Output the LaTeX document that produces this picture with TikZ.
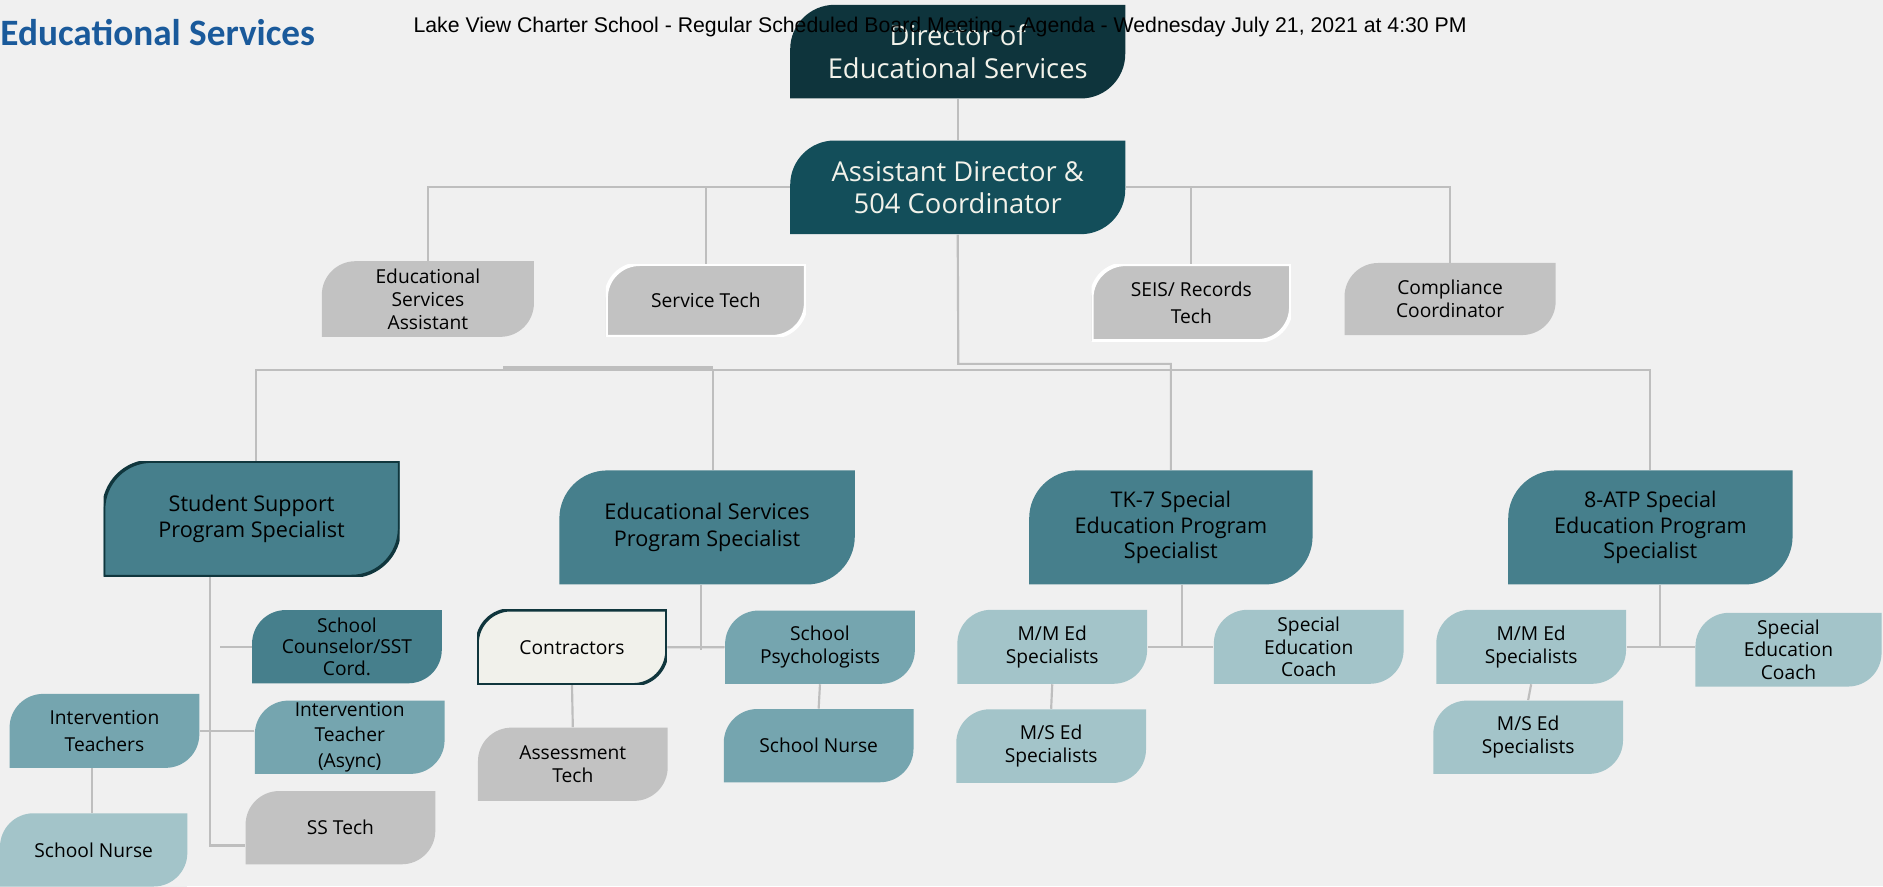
\documentclass[tikz,border=0pt]{standalone}
\usepackage{fontspec}
\setmainfont{Open Sans}
\newfontfamily\titlefont{Carlito}
\newfontfamily\agendafont{Liberation Sans}

\definecolor{pagebg}{HTML}{F0F0F0}
\definecolor{linegrey}{HTML}{BEBEBE}
\definecolor{boxgrey}{HTML}{C2C2C2}
\definecolor{tealdeep}{HTML}{0E343C}
\definecolor{tealdark}{HTML}{134E5A}
\definecolor{tealmid}{HTML}{467F8C}
\definecolor{teallight}{HTML}{75A5AF}
\definecolor{tealpale}{HTML}{A3C4C9}
\definecolor{ivory}{HTML}{F1F1EB}
\definecolor{edge}{HTML}{10363D}
\definecolor{titleblue}{HTML}{1A5A9B}
\definecolor{textwhite}{HTML}{F2F2EA}

\tikzset{
	leaf radius/.store in=\leafr, leaf radius=14pt,
	leaf paint/.style={fill=boxgrey},
	leaf/.style={rectangle, inner sep=0pt, align=center, text=black, fill=pagebg,
		minimum width=79pt, minimum height=30.5pt,
		font=\fontsize{8}{9.5}\selectfont,
		path picture={\path[leaf paint]
			(path picture bounding box.south west)
			-- ([yshift=-\leafr]path picture bounding box.north west)
			arc[start angle=180, end angle=90, radius=\leafr]
			-- (path picture bounding box.north east)
			-- ([yshift=\leafr]path picture bounding box.south east)
			arc[start angle=0, end angle=-90, radius=\leafr]
			-- cycle;}},
	chief/.style={leaf, leaf radius=18.5pt, minimum width=139.5pt, minimum height=39pt,
		text=textwhite, font=\fontsize{11.4}{13.5}\selectfont},
	lead/.style={leaf, leaf radius=20pt, minimum width=123pt, minimum height=47.5pt,
		font=\fontsize{9}{11}\selectfont, leaf paint/.style={fill=tealmid}},
	greyleaf/.style={leaf, leaf paint/.style={fill=boxgrey}},
	whiterim/.style={leaf paint/.style={fill=boxgrey, draw=white, line width=1.6pt}},
	darkleaf/.style={leaf, leaf paint/.style={fill=tealmid}},
	midleaf/.style={leaf, leaf paint/.style={fill=teallight}},
	paleleaf/.style={leaf, leaf paint/.style={fill=tealpale}},
	link/.style={draw=linegrey, line width=0.9pt},
}

\begin{document}
\begin{tikzpicture}[x=0.5pt, y=-0.5pt]
	\fill[pagebg] (0,0) rectangle (1568,738);
	\node[chief, leaf paint/.style={fill=tealdeep}] (director) at (797.5,43) {Director of\\Educational Services};
	\node[chief, leaf paint/.style={fill=tealdark}] (assistant) at (797.5,156) {Assistant Director \&\\504 Coordinator};
	\node[greyleaf, minimum width=88.3pt, minimum height=31.5pt] (esassist) at (356.3,249) {Educational\\Services\\Assistant};
	\node[greyleaf, whiterim, minimum width=83.2pt, minimum height=30.3pt] (servtech) at (587.8,250.2) {Service Tech};
	\node[greyleaf, whiterim, minimum width=83pt, minimum height=32pt, font=\fontsize{8}{11}\selectfont] (records) at (992,252) {SEIS/ Records\\Tech};
	\node[greyleaf, minimum width=87.9pt, minimum height=30pt] (compliance) at (1207.5,249) {Compliance\\Coordinator};
	\node[lead, minimum width=123.2pt, minimum height=48pt, leaf paint/.style={fill=tealmid, draw=edge, line width=1.4pt}] (sssupport) at (209.5,432) {Student Support\\Program Specialist};
	\node[lead] (esprogram) at (588.8,439.2) {Educational Services\\Program Specialist};
	\node[lead, minimum width=118pt, font=\fontsize{9}{10.8}\selectfont] (tkseven) at (975,439.2) {TK-7 Special\\Education Program\\Specialist};
	\node[lead, minimum width=118.4pt, font=\fontsize{9}{10.8}\selectfont] (eightatp) at (1374.3,439.2) {8-ATP Special\\Education Program\\Specialist};
	\node[darkleaf, font=\fontsize{8}{9}\selectfont] (counselor) at (288.9,538.5) {School\\Counselor/SST\\Cord.};
	\node[midleaf, minimum height=30.8pt, font=\fontsize{8}{11}\selectfont] (interteach) at (87,608.6) {Intervention\\Teachers};
	\node[midleaf, font=\fontsize{8}{10.5}\selectfont] (interasync) at (291.2,613.9) {Intervention\\Teacher\\(Async)};
	\node[paleleaf, minimum width=78pt] (nurseleft) at (78,707.7) {School Nurse};
	\node[greyleaf] (sstech) at (283.5,689.2) {SS Tech};
	\node[leaf, minimum height=31.2pt, leaf paint/.style={fill=ivory, draw=edge, line width=1.4pt}] (contractors) at (476.3,539) {Contractors};
	\node[midleaf] (psych) at (682.8,538.9) {School\\Psychologists};
	\node[greyleaf] (assess) at (477,636.4) {Assessment\\Tech};
	\node[midleaf] (nursemid) at (681.7,620.9) {School Nurse};
	\node[paleleaf, minimum height=30.8pt] (mmtk) at (876.2,538.6) {M/M Ed\\Specialists};
	\node[paleleaf, minimum height=30.8pt] (coachtk) at (1089.8,538.6) {Special\\Education\\Coach};
	\node[paleleaf, minimum height=30.7pt] (mstk) at (875.3,621.3) {M/S Ed\\Specialists};
	\node[paleleaf, minimum height=30.8pt] (mmatp) at (1275,538.6) {M/M Ed\\Specialists};
	\node[paleleaf, minimum width=77.5pt, minimum height=30.7pt] (coachatp) at (1489.3,541) {Special\\Education\\Coach};
	\node[paleleaf] (msatp) at (1272.5,613.9) {M/S Ed\\Specialists};
	\coordinate (hub) at (798,303);
	\coordinate (bus) at (0,308);
	\coordinate (seam) at (419,306);
	\coordinate (ssup) at (213,308);
	\coordinate (esup) at (594,308);
	\coordinate (ssdrop) at (175,704);
	\coordinate (itdrop) at (76.4,689);
	\coordinate (esdrop) at (583.5,541);
	\coordinate (tkdrop) at (984,538);
	\coordinate (atpdrop) at (1382,539);
	\draw[link] (director) -- (assistant);
	\draw[link] (assistant.west) -| (esassist.north);
	\draw[link] (servtech.north) -- (servtech.north |- assistant.west);
	\draw[link] (assistant.east) -| (compliance.north);
	\draw[link] (records.north) -- (records.north |- assistant.east);
	\draw[link] (assistant.south) -- (hub) -| (tkseven.north);
	\draw[link] (seam) -- (seam -| esup);
	\draw[link] (ssup |- sssupport.north) -- (ssup) -- (eightatp.north |- bus) -- (eightatp.north);
	\draw[link] (esup |- esprogram.north) -- (esup);
	\draw[link] (ssdrop |- sssupport.south) -- (ssdrop) -- (ssdrop -| sstech.west);
	\draw[link] (counselor.west) -- ++(-26,0);
	\draw[link] (interteach.east) -- (interteach.east -| interasync.west);
	\draw[link] (itdrop |- interteach.south) -- (itdrop |- nurseleft.north);
	\draw[link] (esdrop |- esprogram.south) -- (esdrop);
	\draw[link] (contractors.east) -- (psych.west);
	\draw[link] (contractors.south) -- (assess.north);
	\draw[link] (psych.south) -- (nursemid.north);
	\draw[link] (tkdrop |- tkseven.south) -- (tkdrop);
	\draw[link] (mmtk.east) -- (coachtk.west);
	\draw[link] (mmtk.south) -- (mstk.north);
	\draw[link] (atpdrop |- eightatp.south) -- (atpdrop);
	\draw[link] (mmatp.east) -- (mmatp.east -| coachatp.west);
	\draw[link] (mmatp.south) -- (msatp.north);
	\node[anchor=base west, inner sep=0pt, text=titleblue, font=\titlefont\bfseries\fontsize{15.5}{18}\selectfont] (heading) at (0,38) {Educational Services};
	\node[anchor=base west, inner sep=0pt, font=\agendafont\fontsize{8.85}{10}\selectfont] (agenda) at (344,27) {Lake View Charter School - Regular Scheduled Board Meeting - Agenda - Wednesday July 21, 2021 at 4:30 PM};
\end{tikzpicture}
\end{document}
